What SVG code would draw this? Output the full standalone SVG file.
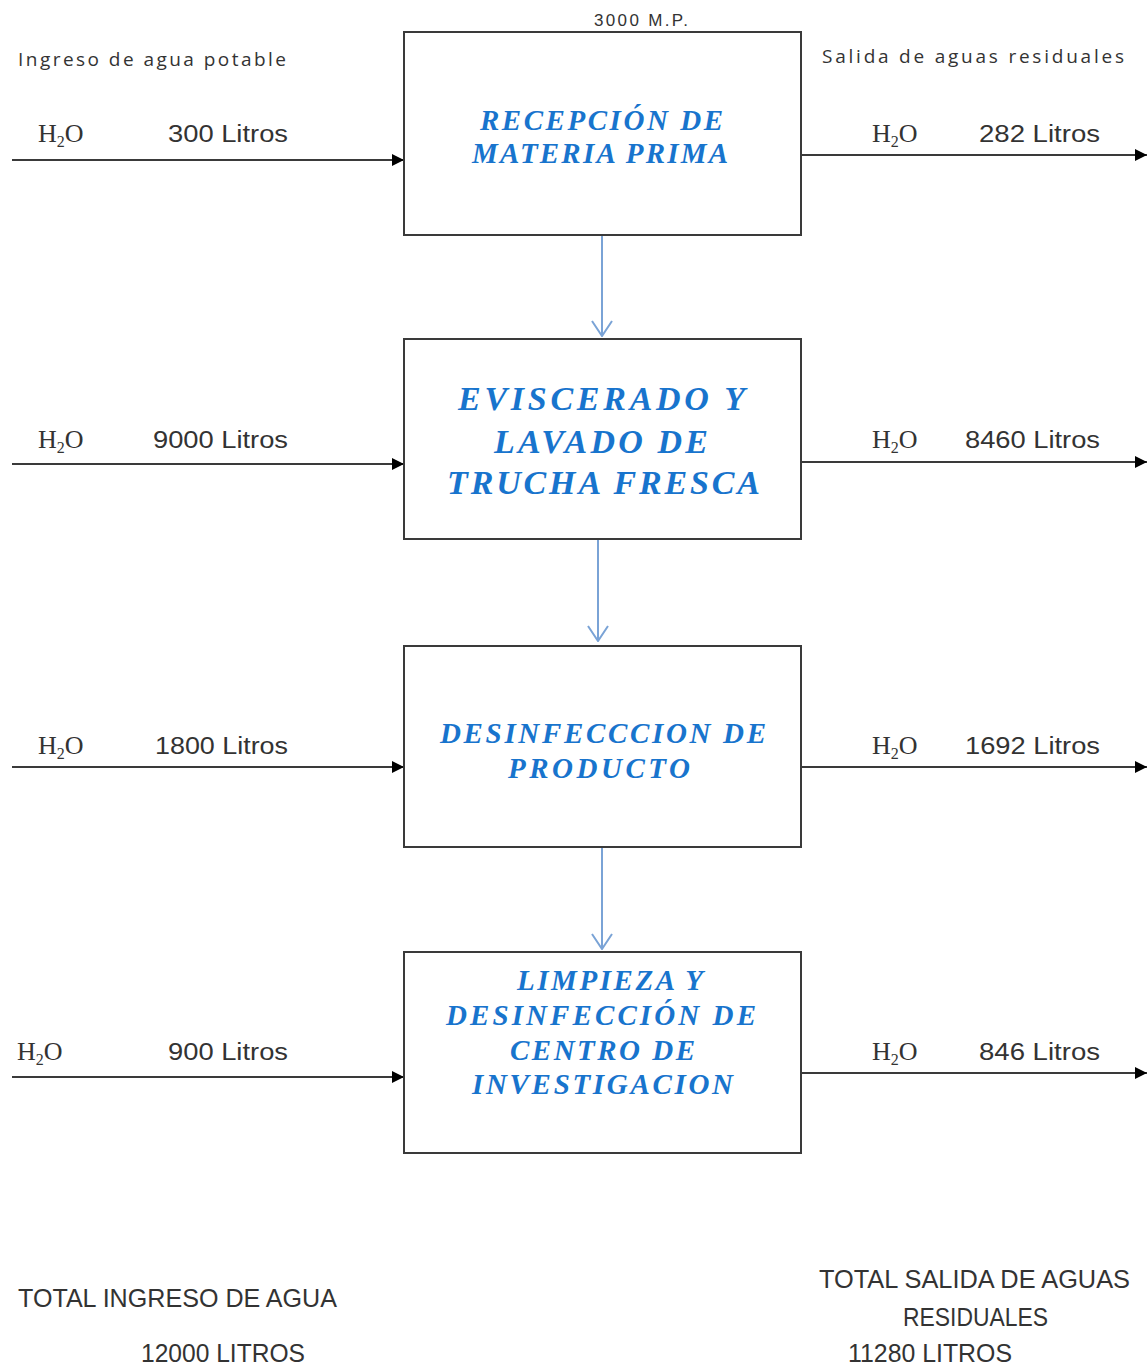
<svg xmlns="http://www.w3.org/2000/svg" width="1147" height="1367" viewBox="0 0 1147 1367">
<style>
.box{fill:#fff;stroke:#3a3a3a;stroke-width:2}
.flow{stroke:#3a3a3a;stroke-width:2;fill:none}
.down{stroke:#7aa3d6;stroke-width:2;fill:none}
.lbl{font-family:"Liberation Sans",Arial,sans-serif;font-size:23px;fill:#333}
.h2o{font-family:"Liberation Serif","Times New Roman",serif;font-size:26px;fill:#333}
.sub{font-size:16px}
.hdr{font-family:"Open Sans","Liberation Sans",sans-serif;font-size:19px;fill:#333}
.title{font-family:"Liberation Serif","Times New Roman",serif;font-style:italic;font-weight:bold;fill:#1874cd;text-anchor:middle}
.tot{font-family:"Liberation Sans",Arial,sans-serif;font-size:25px;fill:#333}
</style>
<defs>
<marker id="ah" viewBox="0 0 10 10" refX="10" refY="5" markerWidth="6" markerHeight="6" markerUnits="strokeWidth" orient="auto"><path d="M0,0 L10,5 L0,10 z" fill="#000"/></marker>
<marker id="ob" viewBox="0 0 22 17" refX="11" refY="16" markerWidth="22" markerHeight="17" markerUnits="userSpaceOnUse" orient="0"><path d="M1,1 L11,16 L21,1" fill="none" stroke="#7aa3d6" stroke-width="2"/></marker>
</defs>
<rect width="1147" height="1367" fill="#fff"/>
<text class="hdr" x="18" y="66" textLength="268" lengthAdjust="spacing">Ingreso de agua potable</text>
<text class="hdr" x="822" y="63" textLength="302" lengthAdjust="spacing">Salida de aguas residuales</text>
<text x="594" y="26" font-family="Liberation Sans,Arial,sans-serif" font-size="17" fill="#333" textLength="94" lengthAdjust="spacing">3000  M.P.</text>

<g id="connectors">
<line class="flow" x1="12" y1="160" x2="404" y2="160" marker-end="url(#ah)"/>
<line class="flow" x1="12" y1="464" x2="404" y2="464" marker-end="url(#ah)"/>
<line class="flow" x1="12" y1="767" x2="404" y2="767" marker-end="url(#ah)"/>
<line class="flow" x1="12" y1="1077" x2="404" y2="1077" marker-end="url(#ah)"/>
<line class="flow" x1="801" y1="155" x2="1147" y2="155" marker-end="url(#ah)"/>
<line class="flow" x1="801" y1="462" x2="1147" y2="462" marker-end="url(#ah)"/>
<line class="flow" x1="801" y1="767" x2="1147" y2="767" marker-end="url(#ah)"/>
<line class="flow" x1="801" y1="1073" x2="1147" y2="1073" marker-end="url(#ah)"/>
<line class="down" x1="602" y1="236" x2="602" y2="336" marker-end="url(#ob)"/>
<line class="down" x1="598" y1="540" x2="598" y2="641" marker-end="url(#ob)"/>
<line class="down" x1="602" y1="848" x2="602" y2="949" marker-end="url(#ob)"/>
</g>

<g id="labels">
<text class="h2o" x="38" y="142">H<tspan class="sub" dy="5">2</tspan><tspan dy="-5">O</tspan></text>
<text class="lbl" x="168" y="142" textLength="120" lengthAdjust="spacingAndGlyphs">300 Litros</text>
<text class="h2o" x="38" y="448">H<tspan class="sub" dy="5">2</tspan><tspan dy="-5">O</tspan></text>
<text class="lbl" x="153" y="448" textLength="135" lengthAdjust="spacingAndGlyphs">9000 Litros</text>
<text class="h2o" x="38" y="754">H<tspan class="sub" dy="5">2</tspan><tspan dy="-5">O</tspan></text>
<text class="lbl" x="155" y="754" textLength="133" lengthAdjust="spacingAndGlyphs">1800 Litros</text>
<text class="h2o" x="17" y="1060">H<tspan class="sub" dy="5">2</tspan><tspan dy="-5">O</tspan></text>
<text class="lbl" x="168" y="1060" textLength="120" lengthAdjust="spacingAndGlyphs">900 Litros</text>
<text class="h2o" x="872" y="142">H<tspan class="sub" dy="5">2</tspan><tspan dy="-5">O</tspan></text>
<text class="lbl" x="979" y="142" textLength="121" lengthAdjust="spacingAndGlyphs">282 Litros</text>
<text class="h2o" x="872" y="448">H<tspan class="sub" dy="5">2</tspan><tspan dy="-5">O</tspan></text>
<text class="lbl" x="965" y="448" textLength="135" lengthAdjust="spacingAndGlyphs">8460 Litros</text>
<text class="h2o" x="872" y="754">H<tspan class="sub" dy="5">2</tspan><tspan dy="-5">O</tspan></text>
<text class="lbl" x="965" y="754" textLength="135" lengthAdjust="spacingAndGlyphs">1692 Litros</text>
<text class="h2o" x="872" y="1060">H<tspan class="sub" dy="5">2</tspan><tspan dy="-5">O</tspan></text>
<text class="lbl" x="979" y="1060" textLength="121" lengthAdjust="spacingAndGlyphs">846 Litros</text>
</g>

<g id="node1">
<rect class="box" x="404" y="32" width="397" height="203"/>
<text class="title" font-size="29" x="601.5" y="130" textLength="243" lengthAdjust="spacing">RECEPCIÓN DE</text>
<text class="title" font-size="29" x="600" y="163" textLength="256" lengthAdjust="spacing">MATERIA PRIMA</text>
</g>
<g id="node2">
<rect class="box" x="404" y="339" width="397" height="200"/>
<text class="title" font-size="34" x="601.5" y="410" textLength="287" lengthAdjust="spacing">EVISCERADO  Y</text>
<text class="title" font-size="34" x="601" y="453" textLength="214" lengthAdjust="spacing">LAVADO DE</text>
<text class="title" font-size="34" x="603.5" y="494" textLength="313" lengthAdjust="spacing">TRUCHA FRESCA</text>
</g>
<g id="node3">
<rect class="box" x="404" y="646" width="397" height="201"/>
<text class="title" font-size="29" x="603" y="743" textLength="326" lengthAdjust="spacing">DESINFECCCION DE</text>
<text class="title" font-size="29" x="599" y="778" textLength="182" lengthAdjust="spacing">PRODUCTO</text>
</g>
<g id="node4">
<rect class="box" x="404" y="952" width="397" height="201"/>
<text class="title" font-size="29" x="610" y="990" textLength="186" lengthAdjust="spacing">LIMPIEZA Y</text>
<text class="title" font-size="29" x="601" y="1025" textLength="310" lengthAdjust="spacing">DESINFECCIÓN  DE</text>
<text class="title" font-size="29" x="602.5" y="1060" textLength="185" lengthAdjust="spacing">CENTRO DE</text>
<text class="title" font-size="29" x="602.5" y="1094" textLength="261" lengthAdjust="spacing">INVESTIGACION</text>
</g>

<g id="totals">
<text class="tot" x="18" y="1307" textLength="319" lengthAdjust="spacingAndGlyphs">TOTAL INGRESO DE  AGUA</text>
<text class="tot" x="141" y="1362" textLength="164" lengthAdjust="spacingAndGlyphs">12000 LITROS</text>
<text class="tot" x="819" y="1288" textLength="311" lengthAdjust="spacingAndGlyphs">TOTAL SALIDA DE  AGUAS</text>
<text class="tot" x="903" y="1326" textLength="145" lengthAdjust="spacingAndGlyphs">RESIDUALES</text>
<text class="tot" x="848" y="1362" textLength="164" lengthAdjust="spacingAndGlyphs">11280 LITROS</text>
</g>
</svg>
